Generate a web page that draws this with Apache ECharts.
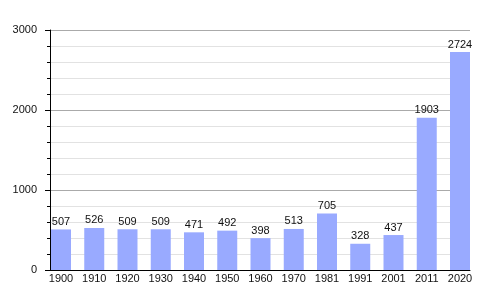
<!DOCTYPE html>
<html><head><meta charset="utf-8">
<script src="https://cdn.jsdelivr.net/npm/echarts@6/dist/echarts.min.js"></script>
<style>html,body{margin:0;padding:0;background:#fff}#c{width:500px;height:300px}</style>
</head><body><div id="c"></div>
<script>
const years = ['1900','1910','1920','1930','1940','1950','1960','1970','1981','1991','2001','2011','2020'];
const population = [507,526,509,509,471,492,398,513,705,328,437,1903,2724];
const yMin = 0, yMax = 3000, yStep = 1000;

const font = 'Liberation Sans, Arial, sans-serif';
const chart = echarts.init(document.getElementById('c'), null, {renderer:'canvas'});
chart.setOption({
  animation:false,
  backgroundColor:'#fff',
  grid:[
    {left:50,right:30,top:30,bottom:30},
    {left:61,right:40,top:30,bottom:30}
  ],
  xAxis:[
    {type:'value',gridIndex:0,min:0,max:1,axisLine:{show:true,onZero:false,lineStyle:{color:'#000',width:1}},
     axisTick:{show:false},axisLabel:{show:false},splitLine:{show:false}},
    {type:'category',gridIndex:1,data:years,boundaryGap:false,
     axisLine:{show:false},axisTick:{show:false},
     axisLabel:{margin:3,fontSize:11,color:'#111',fontFamily:font,interval:0}}
  ],
  yAxis:[
    {type:'value',gridIndex:0,min:yMin,max:yMax,interval:yStep,
     axisLine:{show:true,lineStyle:{color:'#000',width:1}},
     axisTick:{show:true,length:5,lineStyle:{color:'#000',width:1}},
     minorTick:{show:true,splitNumber:5,length:3,lineStyle:{color:'#000',width:1}},
     splitLine:{show:true,lineStyle:{color:'#aaa',width:1}},
     minorSplitLine:{show:true,lineStyle:{color:'#e2e2e2',width:1}},
     axisLabel:{margin:13,fontSize:11,color:'#111',fontFamily:font,formatter:v=>String(v)}},
    {type:'value',gridIndex:1,min:yMin,max:yMax,show:false,splitLine:{show:false}}
  ],
  series:[{
    type:'bar',xAxisIndex:1,yAxisIndex:1,data:population,barWidth:20,
    itemStyle:{color:'#99aaff'},
    label:{show:true,position:'top',distance:2,fontSize:11,color:'#111',fontFamily:font}
  }]
});
</script></body></html>
